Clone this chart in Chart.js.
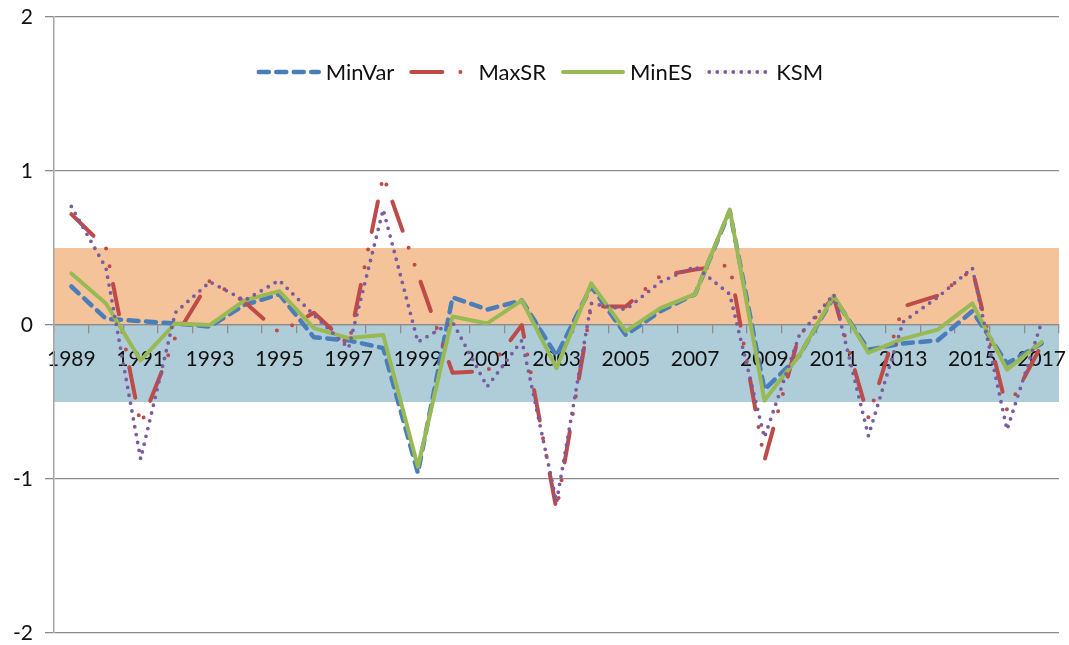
<!DOCTYPE html>
<html>
<head>
<meta charset="utf-8">
<script src="https://cdn.jsdelivr.net/npm/chart.js@4/dist/chart.umd.min.js"></script>
<style>
  html, body { margin: 0; padding: 0; background: #fff; }
  #wrap { width: 1069px; height: 645px; position: relative; }
</style>
</head>
<body>
<div id="wrap"><canvas id="myChart"></canvas></div>
<script>
// years on the category axis
var years = ['1989','1990','1991','1992','1993','1994','1995','1996','1997','1998',
             '1999','2000','2001','2002','2003','2004','2005','2006','2007','2008',
             '2009','2010','2011','2012','2013','2014','2015','2016','2017'];

var minVar = [0.25, 0.04, 0.025, 0.01, -0.01, 0.13, 0.20, -0.08, -0.10, -0.15,
              -0.96, 0.18, 0.10, 0.16, -0.20, 0.25, -0.065, 0.09, 0.20, 0.74,
              -0.42, -0.20, 0.18, -0.16, -0.12, -0.10, 0.09, -0.25, -0.12];

var maxSR  = [0.72, 0.50, -0.65, -0.08, 0.29, 0.15, -0.05, 0.08, -0.13, 0.97,
              0.33, -0.31, -0.30, 0.00, -1.20, 0.12, 0.12, 0.32, 0.36, 0.39,
              -0.88, -0.07, 0.18, -0.60, 0.12, 0.19, 0.36, -0.55, -0.13];

var minES  = [0.335, 0.14, -0.23, 0.01, 0.00, 0.16, 0.22, -0.02, -0.085, -0.065,
              -0.92, 0.055, 0.01, 0.16, -0.28, 0.27, -0.04, 0.11, 0.20, 0.75,
              -0.49, -0.20, 0.19, -0.18, -0.09, -0.03, 0.14, -0.29, -0.11];

var ksm    = [0.77, 0.37, -0.87, 0.08, 0.28, 0.16, 0.29, 0.065, -0.15, 0.75,
              -0.11, 0.02, -0.40, -0.10, -1.15, 0.14, 0.10, 0.28, 0.38, 0.20,
              -0.73, -0.07, 0.20, -0.72, 0.02, 0.18, 0.37, -0.68, 0.02];

// shaded bands behind the lines
var bandLow   = [0, -0.5];
var bandHigh  = [0.5, 0];
var bandColor = ['#f5c399', '#afcdd8'];

var yTicks = [-2, -1, 0, 1, 2];

var FONT = 'Lato, "Open Sans", sans-serif';

// bands go under grid and axis labels
var bandsPlugin = {
    id: 'bands',
    beforeDraw: function(chart) {
        var ctx = chart.ctx;
        var area = chart.chartArea;
        var y = chart.scales.y;
        ctx.save();
        for (var i = 0; i < bandLow.length; i++) {
            var top = y.getPixelForValue(bandHigh[i]);
            var bot = y.getPixelForValue(bandLow[i]);
            ctx.fillStyle = bandColor[i];
            ctx.fillRect(area.left, top, area.right - area.left, bot - top);
        }
        ctx.restore();
    }
};

// legend sits inside the plot, above the data
var legendPlugin = {
    id: 'innerLegend',
    afterDraw: function(chart) {
        var ctx = chart.ctx;
        var sets = chart.data.datasets;
        var lineLen = 62, gapText = 7, gapItem = 15;
        ctx.save();
        ctx.font = '22px ' + FONT;
        var total = 0;
        sets.forEach(function(ds, i) {
            total += lineLen + gapText + ctx.measureText(ds.label).width;
            if (i < sets.length - 1) total += gapItem;
        });
        var x = 540 - total / 2;
        var y = 72;
        sets.forEach(function(ds) {
            ctx.beginPath();
            ctx.setLineDash(ds.borderDash || []);
            ctx.lineCap = ds.borderCapStyle || 'butt';
            ctx.lineWidth = ds.borderWidth;
            ctx.strokeStyle = ds.borderColor;
            ctx.moveTo(x + 2, y);
            ctx.lineTo(x + lineLen, y);
            ctx.stroke();
            ctx.setLineDash([]);
            x += lineLen + gapText;
            ctx.fillStyle = '#111';
            ctx.textBaseline = 'middle';
            ctx.textAlign = 'left';
            ctx.fillText(ds.label, x, y + 1);
            x += ctx.measureText(ds.label).width + gapItem;
        });
        ctx.restore();
    }
};

function series(label, data, color, width, dash, order) {
    return {
        label: label,
        data: data,
        borderColor: color,
        backgroundColor: color,
        borderWidth: width,
        borderDash: dash,
        borderCapStyle: 'round',
        borderJoinStyle: 'round',
        tension: 0,
        pointRadius: 0,
        fill: false,
        order: order
    };
}

// keep label overflow from shrinking the plot
function noOverflow(scale) {
    scale.paddingLeft = 0;
    scale.paddingRight = 0;
    scale.paddingTop = 0;
    scale.paddingBottom = 0;
}

var ctx = document.getElementById('myChart').getContext('2d');
var myChart = new Chart(ctx, {
    type: 'line',
    data: {
        labels: years,
        datasets: [
            series('MinVar', minVar, '#4a7ebb', 4.5, [10, 7.5], 4),
            series('MaxSR', maxSR, '#be4b48', 4, [31, 18, 0, 18, 0, 18], 3),
            series('MinES', minES, '#98b954', 4, [], 2),
            series('KSM', ksm, '#7a5ca2', 3.8, [0, 8], 1)
        ]
    },
    options: {
        responsive: true,
        maintainAspectRatio: false,
        animation: false,
        layout: { padding: { left: 0, top: 17, right: 10, bottom: 12 } },
        plugins: {
            legend: { display: false },
            tooltip: { enabled: false }
        },
        scales: {
            x: {
                type: 'category',
                position: { y: 0 },
                offset: true,
                afterFit: noOverflow,
                grid: {
                    offset: true,
                    drawOnChartArea: false,
                    drawTicks: true,
                    tickLength: 8,
                    color: '#8c8c8c',
                    lineWidth: 1.3
                },
                border: { display: true, color: '#8c8c8c', width: 1.3 },
                ticks: {
                    autoSkip: false,
                    maxRotation: 0,
                    minRotation: 0,
                    padding: 14,
                    color: '#111',
                    font: { family: FONT, size: 21 },
                    callback: function(v, i) { return i % 2 === 0 ? years[i] : ''; }
                }
            },
            y: {
                min: -2,
                max: 2,
                afterFit: function(scale) {
                    scale.width = 54;
                    noOverflow(scale);
                },
                afterBuildTicks: function(scale) {
                    scale.ticks = yTicks.map(function(v) { return { value: v }; });
                },
                grid: {
                    color: '#8c8c8c',
                    lineWidth: 1.3,
                    tickLength: 9
                },
                border: { color: '#a6a6a6', width: 1.5 },
                ticks: {
                    padding: 12,
                    color: '#111',
                    font: { family: FONT, size: 21 }
                }
            }
        }
    },
    plugins: [bandsPlugin, legendPlugin]
});
</script>
</body>
</html>
